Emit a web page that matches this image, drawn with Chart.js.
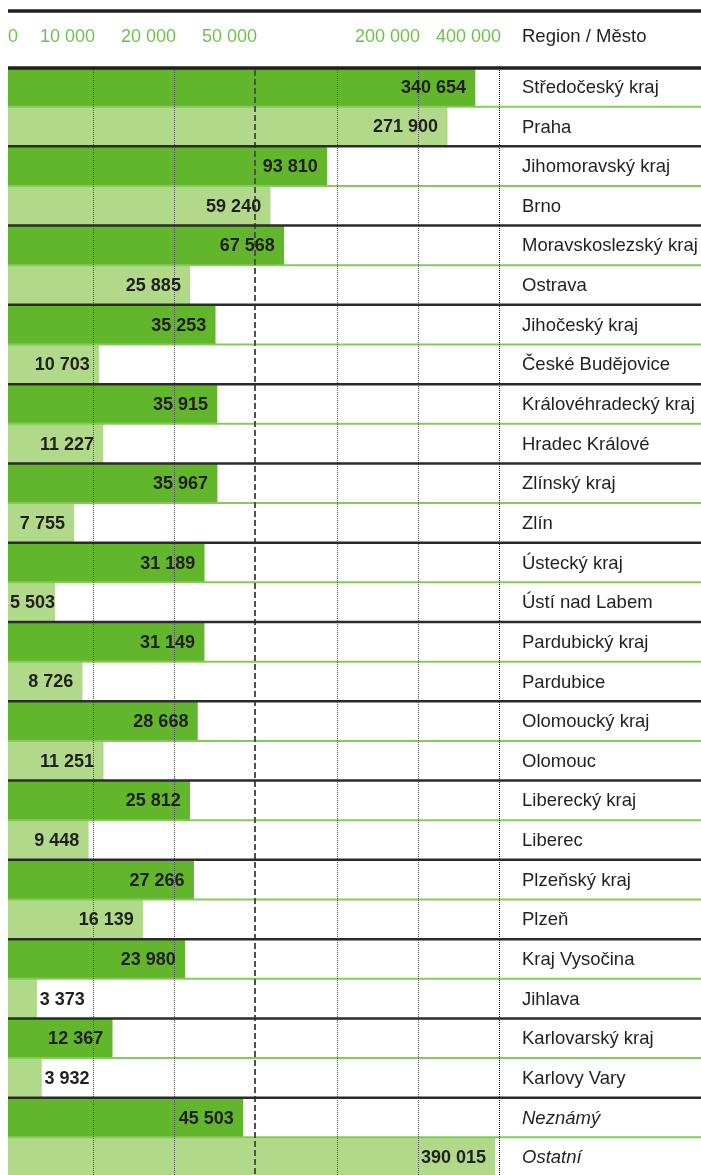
<!DOCTYPE html>
<html lang="cs">
<head>
<meta charset="utf-8">
<title>Region / Město</title>
<script src="https://cdn.jsdelivr.net/npm/chart.js@4.4.1/dist/chart.umd.min.js"></script>
<style>
  html, body { margin: 0; padding: 0; background: #fff; overflow: hidden; }
  #wrap { position: relative; width: 701px; height: 1177px; }
</style>
</head>
<body>
<div id="wrap"><canvas id="chart"></canvas></div>
<script>
// === DATA ===
const regions = [
  "Středočeský kraj", "Jihomoravský kraj", "Moravskoslezský kraj", "Jihočeský kraj",
  "Královéhradecký kraj", "Zlínský kraj", "Ústecký kraj", "Pardubický kraj",
  "Olomoucký kraj", "Liberecký kraj", "Plzeňský kraj", "Kraj Vysočina",
  "Karlovarský kraj", "Neznámý"
];
const regionValues = [340654, 93810, 67568, 35253, 35915, 35967, 31189, 31149, 28668, 25812, 27266, 23980, 12367, 45503];

const cities = [
  "Praha", "Brno", "Ostrava", "České Budějovice",
  "Hradec Králové", "Zlín", "Ústí nad Labem", "Pardubice",
  "Olomouc", "Liberec", "Plzeň", "Jihlava",
  "Karlovy Vary", "Ostatní"
];
const cityValues = [271900, 59240, 25885, 10703, 11227, 7755, 5503, 8726, 11251, 9448, 16139, 3373, 3932, 390015];

const tickValues = [0, 10000, 20000, 50000, 100000, 200000, 400000];
const tickLabels = ["0", "10 000", "20 000", "50 000", "", "200 000", "400 000"];
const columnTitle = "Region / Město";
const italicRows = ["Neznámý", "Ostatní"];

// kraj first, then its city underneath
const labels = [];
const values = [];
regions.forEach((r, i) => {
  labels.push(r, cities[i]);
  values.push(regionValues[i], cityValues[i]);
});

const DARK = "#62b62c";
const LIGHT = "#b0da89";
const INK = "#231f20";
const FONT = "'Liberation Sans', Arial, sans-serif";

// === STEPPED SCALE: every tick gets its own slot, linear inside a slot ===
class SteppedScale extends Chart.LinearScale {
  getPixelForValue(value) {
    const stops = this.options.stops;
    let dec = stops[stops.length - 1];
    if (value <= tickValues[0]) {
      dec = stops[0];
    } else {
      for (let i = 1; i < tickValues.length; i++) {
        if (value <= tickValues[i]) {
          const t = (value - tickValues[i - 1]) / (tickValues[i] - tickValues[i - 1]);
          dec = stops[i - 1] + t * (stops[i] - stops[i - 1]);
          break;
        }
      }
    }
    return this.getPixelForDecimal(dec);
  }
}
SteppedScale.id = "stepped";
Chart.register(SteppedScale);

const fmt = v => String(v).replace(/\B(?=(\d{3})+(?!\d))/g, " ");

function hline(ctx, x1, x2, y) {
  ctx.beginPath();
  ctx.moveTo(x1, y);
  ctx.lineTo(x2, y);
  ctx.stroke();
}

// === GRID, RULES AND TEXT ===
const tablePlugin = {
  id: "table",
  afterDatasetsDraw(chart) {
    const { ctx, chartArea: area, scales: { x, y } } = chart;
    const W = chart.width;
    const rowY = i => y.getPixelForValue(i);
    const between = (a, b) => (rowY(a) + rowY(b)) / 2;

    ctx.save();

    // thin green line between kraj and its city
    ctx.strokeStyle = "#86c95c";
    ctx.lineWidth = 2;
    for (let i = 0; i < labels.length; i += 2) hline(ctx, area.left, W, between(i, i + 1));

    // vertical grid
    const gridTop = area.top + 3;
    tickValues.forEach((v, i) => {
      if (i === 0) return;
      const px = Math.round(x.getPixelForValue(v));
      ctx.beginPath();
      if (v === 50000) {
        ctx.strokeStyle = "#505050";
        ctx.lineWidth = 2;
        ctx.setLineDash([6, 3]);
        ctx.moveTo(px, gridTop);
        ctx.lineTo(px, area.bottom);
      } else {
        ctx.strokeStyle = i === tickValues.length - 1 ? "#111" : "#555";
        ctx.lineWidth = 1;
        ctx.setLineDash([1, 1]);
        ctx.moveTo(px + 0.5, gridTop);
        ctx.lineTo(px + 0.5, area.bottom);
      }
      ctx.stroke();
    });
    ctx.setLineDash([]);

    // black rule between pairs
    ctx.strokeStyle = "#2b2b2b";
    ctx.lineWidth = 2.5;
    for (let i = 2; i < labels.length; i += 2) hline(ctx, area.left, W, between(i - 1, i));

    // header rules
    ctx.strokeStyle = INK;
    ctx.lineWidth = 3.5;
    hline(ctx, area.left, W, 11);
    hline(ctx, area.left, W, area.top + 1);

    // tick labels
    ctx.font = "18px " + FONT;
    ctx.fillStyle = "#70c04c";
    ctx.textBaseline = "middle";
    tickValues.forEach((v, i) => {
      if (!tickLabels[i]) return;
      const px = x.getPixelForValue(v);
      ctx.textAlign = i === 0 ? "left" : "right";
      ctx.fillText(tickLabels[i], i === 0 ? px : px + 2, 37);
    });

    // column title and row names
    ctx.fillStyle = INK;
    ctx.textAlign = "left";
    ctx.font = "18.5px " + FONT;
    ctx.fillText(columnTitle, 522, 37);
    labels.forEach((name, i) => {
      ctx.font = (italicRows.includes(name) ? "italic " : "") + "18.5px " + FONT;
      ctx.fillText(name, 522, rowY(i) + 1);
    });

    // value labels at the bar ends
    ctx.font = "bold 18px " + FONT;
    const meta = chart.getDatasetMeta(0);
    meta.data.forEach((bar, i) => {
      const txt = fmt(values[i]);
      const w = ctx.measureText(txt).width;
      const end = bar.x;
      const cy = bar.y + 1;
      let right = end - 9;
      if (right - w < area.left + 2) right = area.left + 2 + w;
      if (right > end + 2) {
        ctx.textAlign = "left";
        ctx.fillText(txt, end + 3, cy);
      } else {
        ctx.textAlign = "right";
        ctx.fillText(txt, right, cy);
      }
    });

    ctx.restore();
  }
};

// === CHART ===
new Chart(document.getElementById("chart"), {
  type: "bar",
  data: {
    labels: labels,
    datasets: [{
      data: values,
      backgroundColor: labels.map((_, i) => (i % 2 === 0 ? DARK : LIGHT)),
      borderWidth: 0,
      barPercentage: 1,
      categoryPercentage: 1
    }]
  },
  options: {
    responsive: true,
    maintainAspectRatio: false,
    animation: false,
    indexAxis: "y",
    layout: { padding: { left: 8, right: 202, top: 67, bottom: 0 } },
    plugins: {
      legend: { display: false },
      tooltip: { enabled: false }
    },
    scales: {
      x: {
        type: "stepped",
        min: 0,
        max: 400000,
        display: false,
        stops: [0, 85 / 491, 166 / 491, 247 / 491, 329 / 491, 410 / 491, 1]
      },
      y: { display: false }
    }
  },
  plugins: [tablePlugin]
});
</script>
</body>
</html>
